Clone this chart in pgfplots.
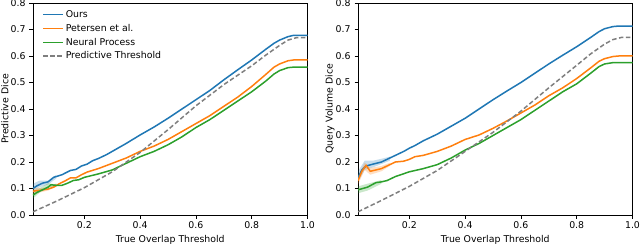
\documentclass[border=0pt]{standalone}
\usepackage{pgfplots}
\pgfplotsset{compat=1.18}
\usepackage{fontspec}
\setmainfont{DejaVu Sans}
\definecolor{c0}{HTML}{1F77B4}
\definecolor{c1}{HTML}{FF7F0E}
\definecolor{c2}{HTML}{2CA02C}
\definecolor{cg}{HTML}{7F7F7F}
\pgfplotsset{
  myax/.style={
    scale only axis, width=274.5bp, height=212bp,
    anchor=south west,
    xmin=0.016, xmax=1.0, ymin=0, ymax=0.8,
    xtick={0.2,0.4,0.6,0.8,1.0},
    ytick={0,0.1,0.2,0.3,0.4,0.5,0.6,0.7,0.8},
    xtick pos=bottom, ytick pos=left,
    tick align=outside, major tick length=3.5bp,
    tick style={black, line width=0.7bp},
    axis line style={line width=0.7bp},
    /pgf/number format/assume math mode=true,
    /pgf/number format/fixed, /pgf/number format/fixed zerofill,
    /pgf/number format/precision=1,
    tick label style={font=\fontsize{9.4}{11}\selectfont},
    yticklabel style={xshift=-0.5bp},
    label style={font=\fontsize{9.4}{11}\selectfont},
    xlabel style={at={(axis description cs:0.5,-0.118)}, anchor=center},
    ylabel style={at={(axis description cs:-0.102,0.5)}, anchor=center},
    every axis plot/.append style={line width=1.5bp},
    clip=true,
  },
  band/.style={draw=none, fill=#1, fill opacity=0.25, forget plot},
}
\begin{document}
\begin{tikzpicture}
\begin{axis}[myax, name=L, at={(0,0)},
  xlabel={True Overlap Threshold}, ylabel={Predictive Dice},
  legend style={at={(axis description cs:0.033,0.975)}, anchor=north west, draw=none, fill=none,
    font=\fontsize{9.4}{11}\selectfont, row sep=1.2bp, inner sep=0pt, nodes={inner sep=2bp}},
  legend cell align=left,
  legend image code/.code={\draw[#1] (-2bp,0bp) -- (18bp,0bp);},
]
\addplot[band=c0] coordinates {(0.016,0.085)(0.04,0.105)(0.07,0.115)(0.1,0.138)(0.1,0.152)(0.07,0.13)(0.04,0.13)(0.016,0.118)} -- cycle;
\addplot[band=c1] coordinates {(0.016,0.075)(0.04,0.085)(0.07,0.092)(0.1,0.11)(0.1,0.12)(0.07,0.104)(0.04,0.102)(0.016,0.102)} -- cycle;
\addplot[band=c2] coordinates {(0.016,0.062)(0.04,0.085)(0.07,0.105)(0.1,0.105)(0.1,0.115)(0.07,0.12)(0.04,0.102)(0.016,0.088)} -- cycle;
\addplot[c0] coordinates {(0.016,0.100)(0.03,0.110)(0.05,0.120)(0.07,0.125)(0.09,0.142)(0.12,0.152)(0.15,0.168)(0.17,0.172)(0.19,0.185)(0.21,0.192)(0.23,0.205)(0.25,0.213)(0.28,0.228)(0.3,0.240)(0.35,0.270)(0.4,0.302)(0.45,0.332)(0.5,0.365)(0.55,0.400)(0.6,0.435)(0.65,0.470)(0.7,0.510)(0.75,0.548)(0.8,0.585)(0.85,0.625)(0.88,0.648)(0.9,0.660)(0.93,0.673)(0.95,0.678)(1.0,0.678)};
\addlegendentry{Ours}
\addplot[c1] coordinates {(0.016,0.090)(0.04,0.093)(0.07,0.098)(0.09,0.105)(0.11,0.118)(0.13,0.128)(0.15,0.140)(0.17,0.140)(0.19,0.152)(0.21,0.162)(0.25,0.175)(0.3,0.195)(0.35,0.215)(0.4,0.240)(0.45,0.260)(0.5,0.285)(0.55,0.315)(0.6,0.345)(0.65,0.375)(0.7,0.410)(0.75,0.445)(0.8,0.485)(0.85,0.530)(0.88,0.558)(0.9,0.570)(0.93,0.582)(0.95,0.585)(1.0,0.585)};
\addlegendentry{Petersen et al.}
\addplot[c2] coordinates {(0.016,0.075)(0.03,0.085)(0.05,0.095)(0.07,0.105)(0.08,0.114)(0.1,0.112)(0.12,0.112)(0.14,0.120)(0.16,0.130)(0.18,0.133)(0.2,0.142)(0.25,0.155)(0.3,0.170)(0.35,0.195)(0.4,0.220)(0.45,0.240)(0.5,0.265)(0.55,0.295)(0.6,0.330)(0.65,0.360)(0.7,0.395)(0.75,0.430)(0.8,0.465)(0.85,0.505)(0.88,0.532)(0.9,0.545)(0.93,0.556)(0.95,0.558)(1.0,0.558)};
\addlegendentry{Neural Process}
\addplot[cg, dash pattern=on 4.5bp off 2.5bp] coordinates {(0.016,0.012)(0.1,0.052)(0.2,0.103)(0.3,0.163)(0.4,0.236)(0.5,0.322)(0.6,0.412)(0.7,0.492)(0.8,0.563)(0.85,0.603)(0.9,0.640)(0.93,0.660)(0.96,0.669)(1.0,0.670)};
\addlegendentry{Predictive Threshold}
\end{axis}
\begin{axis}[myax, name=R, at={(325bp,0)},
  xlabel={True Overlap Threshold}, ylabel={Query Volume Dice},
]
\addplot[band=c0] coordinates {(0.016,0.125)(0.04,0.170)(0.07,0.180)(0.1,0.192)(0.13,0.205)(0.13,0.22)(0.1,0.212)(0.07,0.205)(0.04,0.205)(0.016,0.165)} -- cycle;
\addplot[band=c1] coordinates {(0.016,0.115)(0.04,0.170)(0.06,0.152)(0.1,0.165)(0.13,0.185)(0.13,0.197)(0.1,0.185)(0.06,0.178)(0.04,0.198)(0.016,0.148)} -- cycle;
\addplot[band=c2] coordinates {(0.016,0.082)(0.05,0.092)(0.1,0.118)(0.1,0.132)(0.05,0.118)(0.016,0.108)} -- cycle;
\addplot[c0] coordinates {(0.016,0.140)(0.03,0.170)(0.045,0.185)(0.07,0.192)(0.1,0.200)(0.12,0.210)(0.15,0.225)(0.18,0.240)(0.2,0.252)(0.22,0.262)(0.25,0.280)(0.3,0.305)(0.35,0.335)(0.4,0.365)(0.45,0.400)(0.5,0.435)(0.55,0.468)(0.6,0.500)(0.65,0.535)(0.7,0.570)(0.75,0.603)(0.8,0.635)(0.85,0.670)(0.88,0.692)(0.9,0.703)(0.93,0.711)(0.95,0.713)(1.0,0.713)};
\addplot[c1] coordinates {(0.016,0.130)(0.03,0.165)(0.045,0.187)(0.06,0.165)(0.08,0.170)(0.1,0.175)(0.12,0.185)(0.15,0.200)(0.18,0.203)(0.2,0.210)(0.22,0.220)(0.25,0.225)(0.3,0.240)(0.35,0.260)(0.4,0.285)(0.45,0.302)(0.5,0.327)(0.55,0.355)(0.6,0.385)(0.65,0.415)(0.7,0.450)(0.75,0.480)(0.8,0.515)(0.85,0.555)(0.88,0.580)(0.9,0.590)(0.93,0.598)(0.95,0.600)(1.0,0.600)};
\addplot[c2] coordinates {(0.016,0.095)(0.05,0.105)(0.08,0.122)(0.1,0.125)(0.12,0.130)(0.15,0.145)(0.2,0.163)(0.25,0.175)(0.3,0.190)(0.33,0.205)(0.35,0.215)(0.4,0.245)(0.45,0.270)(0.5,0.300)(0.55,0.330)(0.6,0.360)(0.65,0.395)(0.7,0.430)(0.75,0.465)(0.8,0.495)(0.85,0.535)(0.88,0.560)(0.9,0.570)(0.93,0.575)(0.95,0.575)(1.0,0.575)};
\addplot[cg, dash pattern=on 4.5bp off 2.5bp] coordinates {(0.016,0.012)(0.1,0.055)(0.2,0.108)(0.3,0.168)(0.4,0.240)(0.5,0.312)(0.6,0.392)(0.7,0.480)(0.8,0.565)(0.85,0.608)(0.9,0.645)(0.93,0.662)(0.96,0.670)(1.0,0.670)};
\end{axis}
\pgfresetboundingbox
\path[use as bounding box] (-33bp,-29bp) rectangle (607bp,215bp);
\end{tikzpicture}
\end{document}
